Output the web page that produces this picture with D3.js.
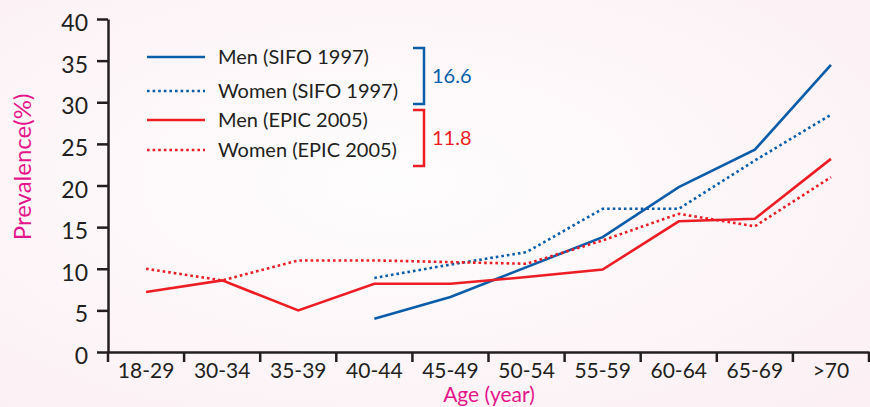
<!DOCTYPE html>
<html lang="en">
<head>
<meta charset="utf-8">
<title>Prevalence by age</title>
<script src="https://d3js.org/d3.v7.min.js"></script>
<style>
  body { margin: 0; }
  svg { display: block; font-family: Lato, "Open Sans", sans-serif; }
</style>
</head>
<body>
<svg id="chart" width="870" height="407"></svg>
<script>
// categories and series
var ages = ["18-29", "30-34", "35-39", "40-44", "45-49", "50-54", "55-59", "60-64", "65-69", ">70"];
var menSifo = [null, null, null, 4.0, 6.6, 10.2, 13.8, 19.8, 24.3, 34.5];
var womenSifo = [null, null, null, 8.9, 10.5, 12.0, 17.2, 17.2, 23.0, 28.5];
var menEpic = [7.2, 8.6, 5.0, 8.2, 8.2, 9.0, 9.9, 15.7, 16.0, 23.2];
var womenEpic = [10.0, 8.6, 11.0, 11.0, 10.8, 10.6, 13.4, 16.6, 15.1, 21.0];
var yTicks = [0, 5, 10, 15, 20, 25, 30, 35, 40];

var BLUE = "#0b5ca9", RED = "#ee1d25", PINK = "#e5168b", INK = "#231f20";

var series = [
  { name: "Men (SIFO 1997)", values: menSifo, color: BLUE, dotted: false },
  { name: "Women (SIFO 1997)", values: womenSifo, color: BLUE, dotted: true },
  { name: "Men (EPIC 2005)", values: menEpic, color: RED, dotted: false },
  { name: "Women (EPIC 2005)", values: womenEpic, color: RED, dotted: true }
];

var svg = d3.select("#chart");

// soft pinkish background
var defs = svg.append("defs");
var grad = defs.append("radialGradient").attr("id", "bg")
  .attr("cx", "45%").attr("cy", "45%").attr("r", "75%");
grad.append("stop").attr("offset", "0%").attr("stop-color", "#fefdfd");
grad.append("stop").attr("offset", "100%").attr("stop-color", "#fcf0f4");
svg.append("rect").attr("width", 870).attr("height", 407).attr("fill", "url(#bg)");

var x = d3.scaleBand().domain(ages).range([108, 869]);
var y = d3.scaleLinear().domain([0, 40]).range([352, 19]);
var cx = function (i) { return x(ages[i]) + x.bandwidth() / 2; };

// y axis
var yAxis = svg.append("g").attr("transform", "translate(108,0)")
  .call(d3.axisLeft(y).tickValues(yTicks).tickSize(11).tickSizeOuter(0).tickPadding(9));
yAxis.select(".domain").attr("stroke", INK).attr("stroke-width", 2.5);
yAxis.selectAll(".tick line").attr("stroke", INK).attr("stroke-width", 2.5);
yAxis.selectAll(".tick text").attr("fill", INK).style("font-size", "23px")
  .style("font-family", "Lato, sans-serif").attr("dy", "0.5em");

// x axis: labels centred in bands, ticks on band edges
var xAxis = svg.append("g").attr("transform", "translate(0,352)")
  .call(d3.axisBottom(x).tickSize(0).tickSizeOuter(0).tickPadding(13));
xAxis.select(".domain").attr("stroke", INK).attr("stroke-width", 2.5);
xAxis.selectAll(".tick text").attr("fill", INK).style("font-size", "21px")
  .style("font-family", "Lato, sans-serif").attr("dy", "0.6em");
var edges = ages.map(function (a) { return x(a); }).concat([x.range()[1]]);
xAxis.selectAll(".edge").data(edges).enter().append("line")
  .attr("x1", function (d) { return d; }).attr("x2", function (d) { return d; })
  .attr("y1", 0).attr("y2", 10)
  .attr("stroke", INK).attr("stroke-width", 2.5);

// axis titles
svg.append("text").attr("transform", "translate(31,167) rotate(-90)")
  .attr("text-anchor", "middle").attr("fill", PINK).style("font-size", "24px")
  .text("Prevalence(%)");
svg.append("text").attr("x", 489).attr("y", 402)
  .attr("text-anchor", "middle").attr("fill", PINK).style("font-size", "21px")
  .text("Age (year)");

// the lines
var line = d3.line()
  .defined(function (d) { return d != null; })
  .x(function (d, i) { return cx(i); })
  .y(function (d) { return y(d); });

svg.selectAll(".series").data(series).enter().append("path")
  .attr("d", function (s) { return line(s.values); })
  .attr("fill", "none")
  .attr("stroke", function (s) { return s.color; })
  .attr("stroke-width", 2.6)
  .attr("stroke-dasharray", function (s) { return s.dotted ? "2.6,3" : null; });

// legend
var rowY = [57, 91, 120, 150];
var leg = svg.selectAll(".leg").data(series).enter().append("g")
  .attr("transform", function (s, i) { return "translate(0," + rowY[i] + ")"; });
leg.append("line").attr("x1", 147).attr("x2", 205).attr("y1", 0).attr("y2", 0)
  .attr("stroke", function (s) { return s.color; }).attr("stroke-width", 2.6)
  .attr("stroke-dasharray", function (s) { return s.dotted ? "2.6,3" : null; });
leg.append("text").attr("x", 218).attr("y", 0).attr("dy", "0.35em")
  .attr("fill", INK).style("font-size", "20px")
  .text(function (s) { return s.name; });

// brackets with totals
var brackets = [
  { top: 48, bottom: 104, color: BLUE, label: "16.6" },
  { top: 110, bottom: 166, color: RED, label: "11.8" }
];
brackets.forEach(function (b) {
  svg.append("path")
    .attr("d", "M413," + b.top + "H424V" + b.bottom + "H413")
    .attr("fill", "none").attr("stroke", b.color).attr("stroke-width", 2.5);
  svg.append("text").attr("x", 432).attr("y", (b.top + b.bottom) / 2)
    .attr("dy", "0.35em").attr("fill", b.color).style("font-size", "20px")
    .text(b.label);
});
</script>
</body>
</html>
